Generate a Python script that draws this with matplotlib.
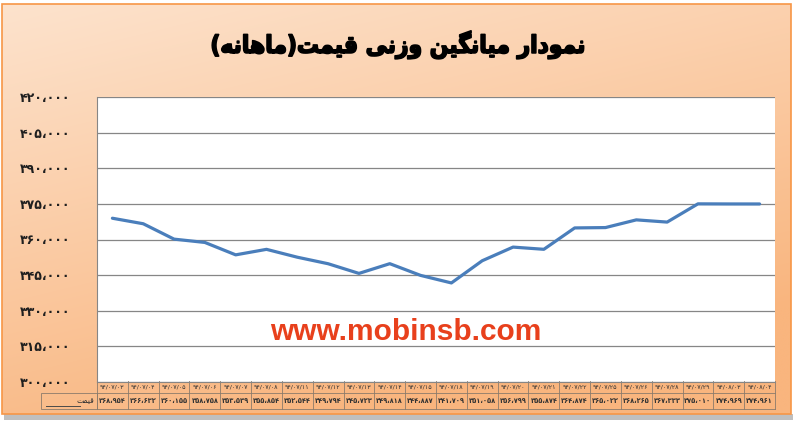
import numpy as np
import matplotlib.pyplot as plt
import matplotlib.patheffects as pe
from matplotlib.transforms import blended_transform_factory
from matplotlib.patches import Rectangle

# data
dates = ['94/07/03', '94/07/04', '94/07/05', '94/07/06', '94/07/07', '94/07/08',
         '94/07/11', '94/07/12', '94/07/13', '94/07/14', '94/07/15', '94/07/18',
         '94/07/19', '94/07/20', '94/07/21', '94/07/22', '94/07/25', '94/07/26',
         '94/07/28', '94/07/29', '94/08/03', '94/08/04']
prices = [368954, 366632, 360155, 358758, 353539, 355854, 352544, 349794,
          345723, 349818, 344887, 341709, 351058, 356799, 355874, 364874,
          365022, 368265, 367333, 375010, 374969, 374961]
y_ticks = list(range(300000, 420001, 15000))
title = 'نمودار میانگین وزنی قیمت(ماهانه)'
row_label = 'قیمت'
watermark = 'www.mobinsb.com'

FA_DIGITS = str.maketrans('0123456789,', '۰۱۲۳۴۵۶۷۸۹،')

# contextual forms: isolated, final, initial, medial
FORMS = {
    'ا': ('\uFE8D', '\uFE8E', None, None),
    'ت': ('\uFE95', '\uFE96', '\uFE97', '\uFE98'),
    'د': ('\uFEA9', '\uFEAA', None, None),
    'ر': ('\uFEAD', '\uFEAE', None, None),
    'ز': ('\uFEAF', '\uFEB0', None, None),
    'ق': ('\uFED5', '\uFED6', '\uFED7', '\uFED8'),
    'م': ('\uFEE1', '\uFEE2', '\uFEE3', '\uFEE4'),
    'ن': ('\uFEE5', '\uFEE6', '\uFEE7', '\uFEE8'),
    'ه': ('\uFEE9', '\uFEEA', '\uFEEB', '\uFEEC'),
    'و': ('\uFEED', '\uFEEE', None, None),
    'ی': ('\uFBFC', '\uFBFD', '\uFBFE', '\uFBFF'),
    'گ': ('\uFB92', '\uFB93', '\uFB94', '\uFB95'),
}


def shape(s):
    # matplotlib has no arabic shaping, so pick the joined forms by hand
    out = []
    for i, ch in enumerate(s):
        if ch not in FORMS:
            out.append({'(': ')', ')': '('}.get(ch, ch))
            continue
        prev = s[i - 1] if i > 0 else ''
        nxt = s[i + 1] if i + 1 < len(s) else ''
        join_prev = prev in FORMS and FORMS[prev][2] is not None
        join_next = FORMS[ch][2] is not None and nxt in FORMS
        iso, fin, ini, med = FORMS[ch]
        if join_prev and join_next:
            out.append(med)
        elif join_prev:
            out.append(fin)
        elif join_next:
            out.append(ini)
        else:
            out.append(iso)
    return ''.join(reversed(out))


W, H = 795, 424
fig = plt.figure(figsize=(W / 100, H / 100), dpi=100)
fig.patch.set_facecolor('white')

# background panel with peach gradient
bg = fig.add_axes([0, 0, 1, 1], zorder=-10)
yy, xx = np.mgrid[0:H, 0:W]
t = np.clip(0.1 + 0.35 * xx / W + 0.75 * yy / H, 0, 1)
c0 = np.array([253, 232, 214]) / 255
c1 = np.array([249, 181, 126]) / 255
img = c0 + (c1 - c0) * t[..., None]
bg.imshow(img, extent=[2, 791, 414, 4], aspect='auto')
bg.add_patch(Rectangle((4, 414), 789, 6, color='#BFBFBF', lw=0))
bg.add_patch(Rectangle((2, 4), 789, 410, fill=False, ec='#F79646', lw=1.2))
bg.set_xlim(0, W)
bg.set_ylim(H, 0)
bg.axis('off')

fig.text(0.5, 1 - 45 / H, shape(title), ha='center', va='center',
         fontsize=17.5, fontweight='bold', fontstretch='condensed', color='black',
         path_effects=[pe.withStroke(linewidth=1.2, foreground='black')])

px_l, px_r, px_t, px_b = 97, 775, 97, 382
ax = fig.add_axes([px_l / W, 1 - px_b / H, (px_r - px_l) / W, (px_b - px_t) / H])
ax.set_facecolor('white')
x = np.arange(len(prices))
ax.plot(x, prices, color='#4A7EBB', lw=2.3, solid_joinstyle='round',
        solid_capstyle='round', zorder=3)
ax.set_xlim(-0.5, len(prices) - 0.5)
ax.set_ylim(y_ticks[0], y_ticks[-1])
ax.set_yticks(y_ticks)
ax.set_yticklabels([f'{v:,}'.translate(FA_DIGITS) for v in y_ticks],
                   fontsize=9, fontweight='bold', color='#1F1F1F')
ax.tick_params(axis='y', length=0, pad=19)
ax.set_xticks([])
ax.grid(axis='y', color='#868686', lw=0.9)
for side in ['right', 'top']:
    ax.spines[side].set_visible(False)
ax.spines['left'].set_color('#868686')
ax.spines['bottom'].set_color('#868686')

fig.text(406 / W, 1 - 332 / H, watermark, ha='center', va='center',
         fontsize=21.5, fontweight='bold', color='#E8401C', family='Liberation Sans')

# data table under the plot
tr = blended_transform_factory(ax.transData, fig.transFigure)
line_c = '#8C7B6B'
y_top, y_mid, y_bot = 1 - 381 / H, 1 - 393 / H, 1 - 409 / H
for i in range(len(prices) + 1):
    ax.plot([i - 0.5, i - 0.5], [y_top, y_bot], color=line_c, lw=0.6,
            transform=tr, clip_on=False)
for yv in [y_mid, y_bot]:
    ax.plot([-0.5, len(prices) - 0.5], [yv, yv], color=line_c, lw=0.6,
            transform=tr, clip_on=False)
for i, (d, p) in enumerate(zip(dates, prices)):
    ax.text(i, (y_top + y_mid) / 2, d.translate(FA_DIGITS), transform=tr,
            ha='center', va='center', fontsize=4.6, color='#333333')
    ax.text(i, (y_mid + y_bot) / 2, f'{p:,}'.translate(FA_DIGITS), transform=tr,
            ha='center', va='center', fontsize=4.8, fontweight='bold', color='#333333')

# row header cell with legend key
hx0, hx1 = 41 / W, px_l / W
fig.add_artist(Rectangle((hx0, y_bot), hx1 - hx0, y_mid - y_bot, fill=False,
                         ec=line_c, lw=0.6))
fig.add_artist(plt.Line2D([46 / W, 80 / W], [y_bot + 0.008, y_bot + 0.008],
                          color='#4A4A4A', lw=0.7))
fig.text(94 / W, (y_mid + y_bot) / 2, shape(row_label), ha='right', va='center',
         fontsize=5.5, color='#333333')

fig.savefig('out.png', dpi=100)
